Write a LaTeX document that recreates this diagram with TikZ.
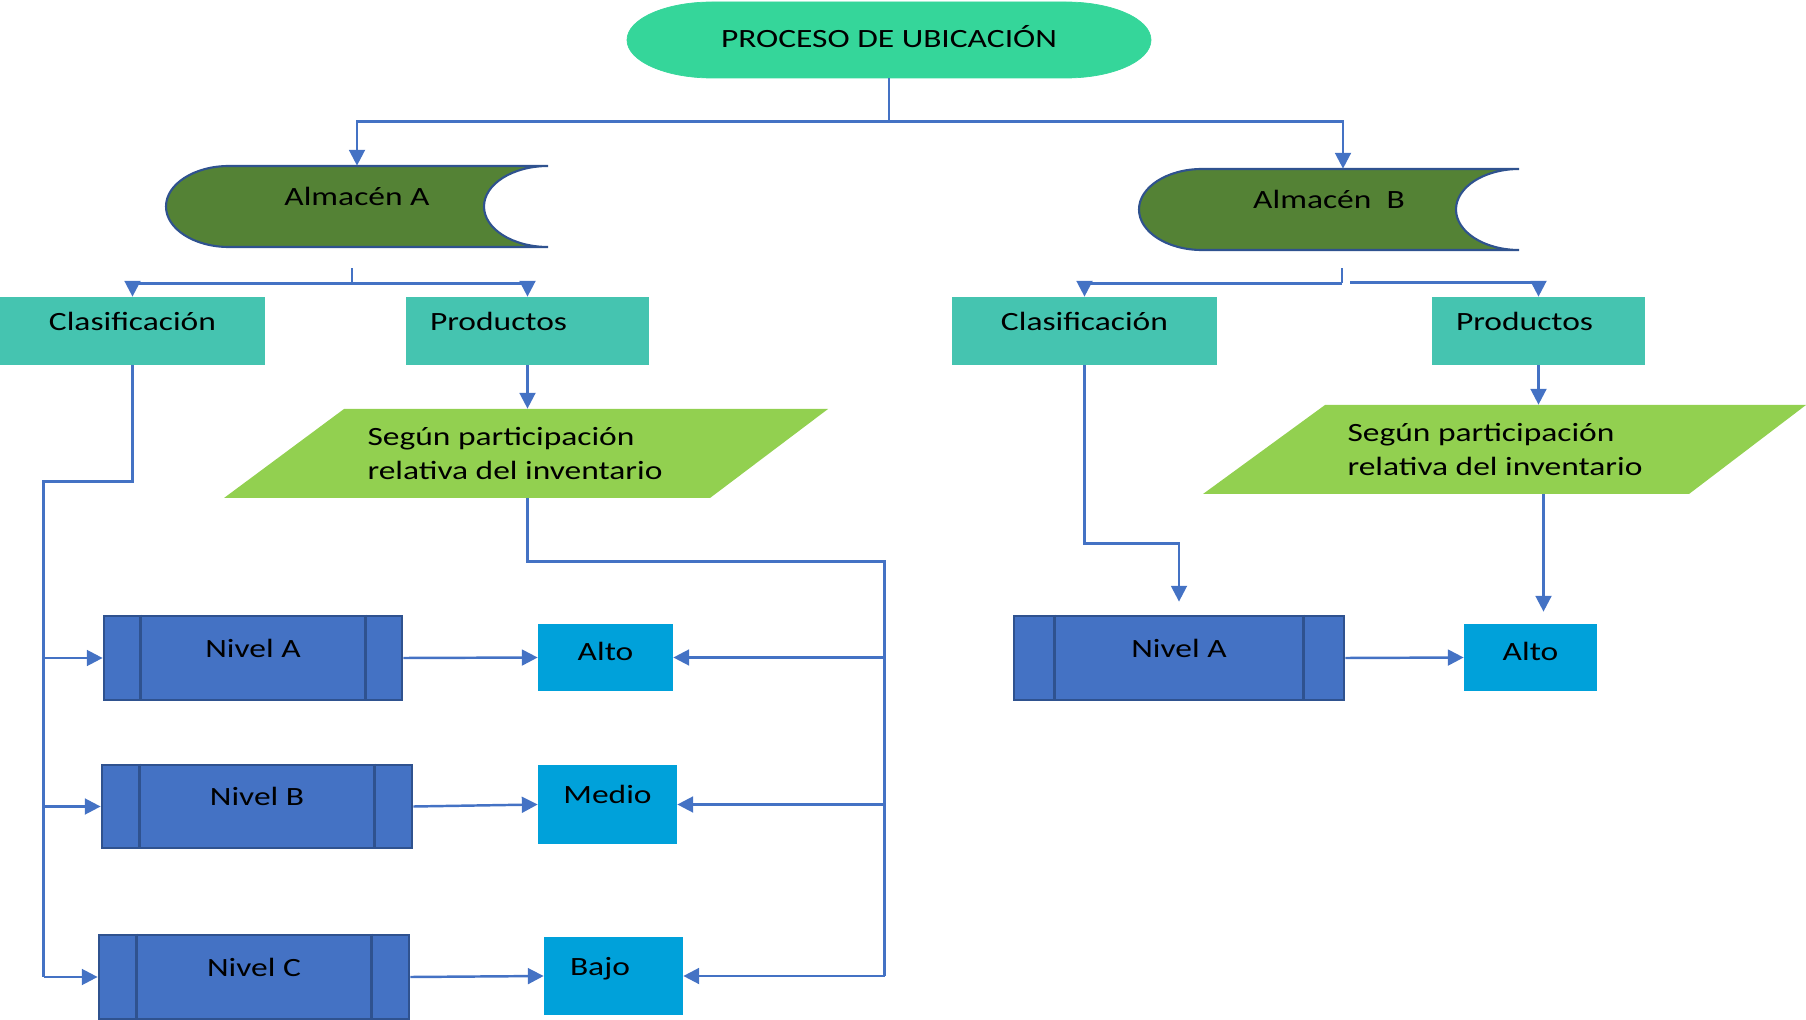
\documentclass[tikz,border=0pt]{standalone}
\usepackage{fontspec}
\setmainfont{Carlito}
\usepackage{graphicx}
\usetikzlibrary{arrows.meta,calc}

\definecolor{titverde}{RGB}{53,214,154}
\definecolor{almverde}{RGB}{84,130,53}
\definecolor{borde}{RGB}{47,82,143}
\definecolor{turquesa}{RGB}{69,196,176}
\definecolor{lima}{RGB}{146,208,80}
\definecolor{azul}{RGB}{68,114,196}
\definecolor{celeste}{RGB}{0,161,218}

\newcommand{\wt}[1]{\scalebox{1.27}[1]{#1}}

\begin{document}
\begin{tikzpicture}[x=0.02cm, y=-0.02cm,
  font=\fontsize{15}{19}\selectfont,
  linea/.style={draw=azul, line width=1.4pt},
  flecha/.style={linea, -{Triangle[length=9pt,width=9pt]}},
  caja/.style={inner sep=0pt, text height=10pt, text depth=11pt},
  clase/.style={caja, fill=turquesa, minimum height=1.36cm},
  nivel/.style={caja, fill=azul, draw=borde, line width=1.6pt},
  grado/.style={caja, fill=celeste}]
\useasboundingbox (0,0) rectangle (1806,1020);

\def\ya{166};
\def\yb{247};

% formas
\filldraw[fill=titverde, draw=titverde] (712,2) -- (1066,2)
  arc[start angle=-90, end angle=90, x radius=85, y radius=38] -- (712,78)
  arc[start angle=90, end angle=270, x radius=85, y radius=38] -- cycle;
\filldraw[fill=almverde, draw=borde, line width=1.2pt] (229,\ya) -- (548,\ya)
  arc[start angle=-90, end angle=-270, x radius=64, y radius=40.5] -- (229,\yb)
  arc[start angle=90, end angle=270, x radius=63, y radius=40.5] -- cycle;
\filldraw[fill=almverde, draw=borde, line width=1.2pt] (1202,169) -- (1519,169)
  arc[start angle=-90, end angle=-270, x radius=63, y radius=40.5] -- (1202,250)
  arc[start angle=90, end angle=270, x radius=63, y radius=40.5] -- cycle;
\fill[lima] (344,409) -- (828,409) -- (710,498) -- (224,498) -- cycle;
\fill[lima] (1325,405) -- (1806,405) -- (1689,494) -- (1203,494) -- cycle;

\node[inner sep=0pt, text height=10pt, text depth=1.5pt, minimum width=10.48cm, minimum height=1.52cm] (titulo) at (889,40) {\wt{PROCESO DE UBICACIÓN}};
\node[caja, minimum width=7.64cm, minimum height=1.62cm] (alm1) at (357,206.5) {\wt{Almacén A}};
\node[caja, minimum width=7.6cm, minimum height=1.62cm] (alm2) at (1329,209.5) {\wt{Almacén\ \ B}};

\node[clase, minimum width=5.3cm] (clas1) at (132.5,331) {\wt{Clasificación}};
\node[clase, inner xsep=0.48cm, text width=3.9cm, align=left] (prod1) at (527.5,331) {\wt{Productos}};
\node[clase, minimum width=5.3cm] (clas2) at (1084.5,331) {\wt{Clasificación}};
\node[clase, inner xsep=0.48cm, text width=3.3cm, align=left] (prod2) at (1538.5,331) {\wt{Productos}};

\node[inner sep=0pt, minimum height=1.78cm, align=left] (part1) at (515,453.5) {\wt{Según participación}\\\wt{relativa del inventario}};
\node[inner sep=0pt, minimum height=1.78cm, align=left] (part2) at (1495,449.5) {\wt{Según participación}\\\wt{relativa del inventario}};

\node[nivel, minimum width=5.96cm, minimum height=1.68cm] (nivelA) at (253,658) {\wt{Nivel A}};
\node[nivel, minimum width=6.2cm, minimum height=1.66cm] (nivelB) at (257,806.5) {\wt{Nivel B}};
\node[nivel, minimum width=6.2cm, minimum height=1.68cm] (nivelC) at (254,977) {\wt{Nivel C}};
\node[nivel, minimum width=6.6cm, minimum height=1.68cm] (nivelA2) at (1179,658) {\wt{Nivel A}};

\node[grado, text depth=7pt, minimum width=2.7cm, minimum height=1.34cm] (alto) at (605.5,657.5) {\wt{Alto}};
\node[grado, minimum width=2.78cm, minimum height=1.58cm] (medio) at (607.5,804.5) {\wt{Medio}};
\node[grado, minimum height=1.56cm, inner xsep=0.52cm, text width=1.74cm, align=left] (bajo) at (613.5,976) {\wt{Bajo}};
\node[grado, text depth=7pt, minimum width=2.66cm, minimum height=1.34cm] (alto2) at (1530.5,657.5) {\wt{Alto}};

\foreach \n/\d in {nivelA/38, nivelB/39, nivelC/39, nivelA2/42}{
  \draw[borde, line width=1.6pt] ($(\n.north west)+(\d,0)$) -- ($(\n.south west)+(\d,0)$);
  \draw[borde, line width=1.6pt] ($(\n.north east)+(-\d,0)$) -- ($(\n.south east)+(-\d,0)$);
}

% conectores
\draw[flecha] (titulo.south) -- ++(0,43) -| (alm1.north);
\draw[flecha] (titulo.south) ++(0,43) -| ([xshift=0.28cm]alm2.north);

\coordinate (r1) at ($(alm1.south)+(-5,36)$);
\draw[linea] ($(alm1.south)+(-5,21)$) -- (r1);
\draw[flecha] (r1) -| (clas1.north);
\draw[flecha] (r1) -| (prod1.north);

\coordinate (r2) at ($(alm2.south)+(13,33)$);
\draw[linea] ($(alm2.south)+(13,18)$) -- (r2);
\draw[flecha] (r2) -| (clas2.north);
\draw[flecha] ($(r2)+(8,-1)$) -| (prod2.north);

\coordinate (b1) at ($(clas1.south)+(-89,116)$);
\draw[linea] (clas1.south) |- (b1) -- (b1 |- nivelC.west);
\foreach \n in {nivelA,nivelB,nivelC}
  \draw[flecha] (b1 |- \n.west) -- (\n.west);

\draw[flecha] (prod1.south) -- (prod1.south |- part1.north);
\coordinate (b2) at ($(prod1.south |- part1.south)+(357,63)$);
\draw[linea] (prod1.south |- part1.south) |- (b2) -- (b2 |- bajo.east);
\foreach \n in {alto,medio,bajo}
  \draw[flecha] (b2 |- \n.east) -- (\n.east);

\draw[flecha] (nivelA.east) -- (alto.west);
\draw[flecha] (nivelB.east) -- (medio.west);
\draw[flecha] (nivelC.east) -- (bajo.west);

\draw[flecha] (prod2.south) -- (prod2.south |- part2.north);
\draw[flecha, shorten >=0.26cm] (clas2.south) -- ++(0,178) -| (nivelA2.north);
\draw[flecha, shorten >=0.24cm] ([xshift=0.1cm]prod2.south |- part2.south) -- ([xshift=0.1cm]prod2.south |- alto2.north);
\draw[flecha] (nivelA2.east) -- (alto2.west);

\end{tikzpicture}
\end{document}
